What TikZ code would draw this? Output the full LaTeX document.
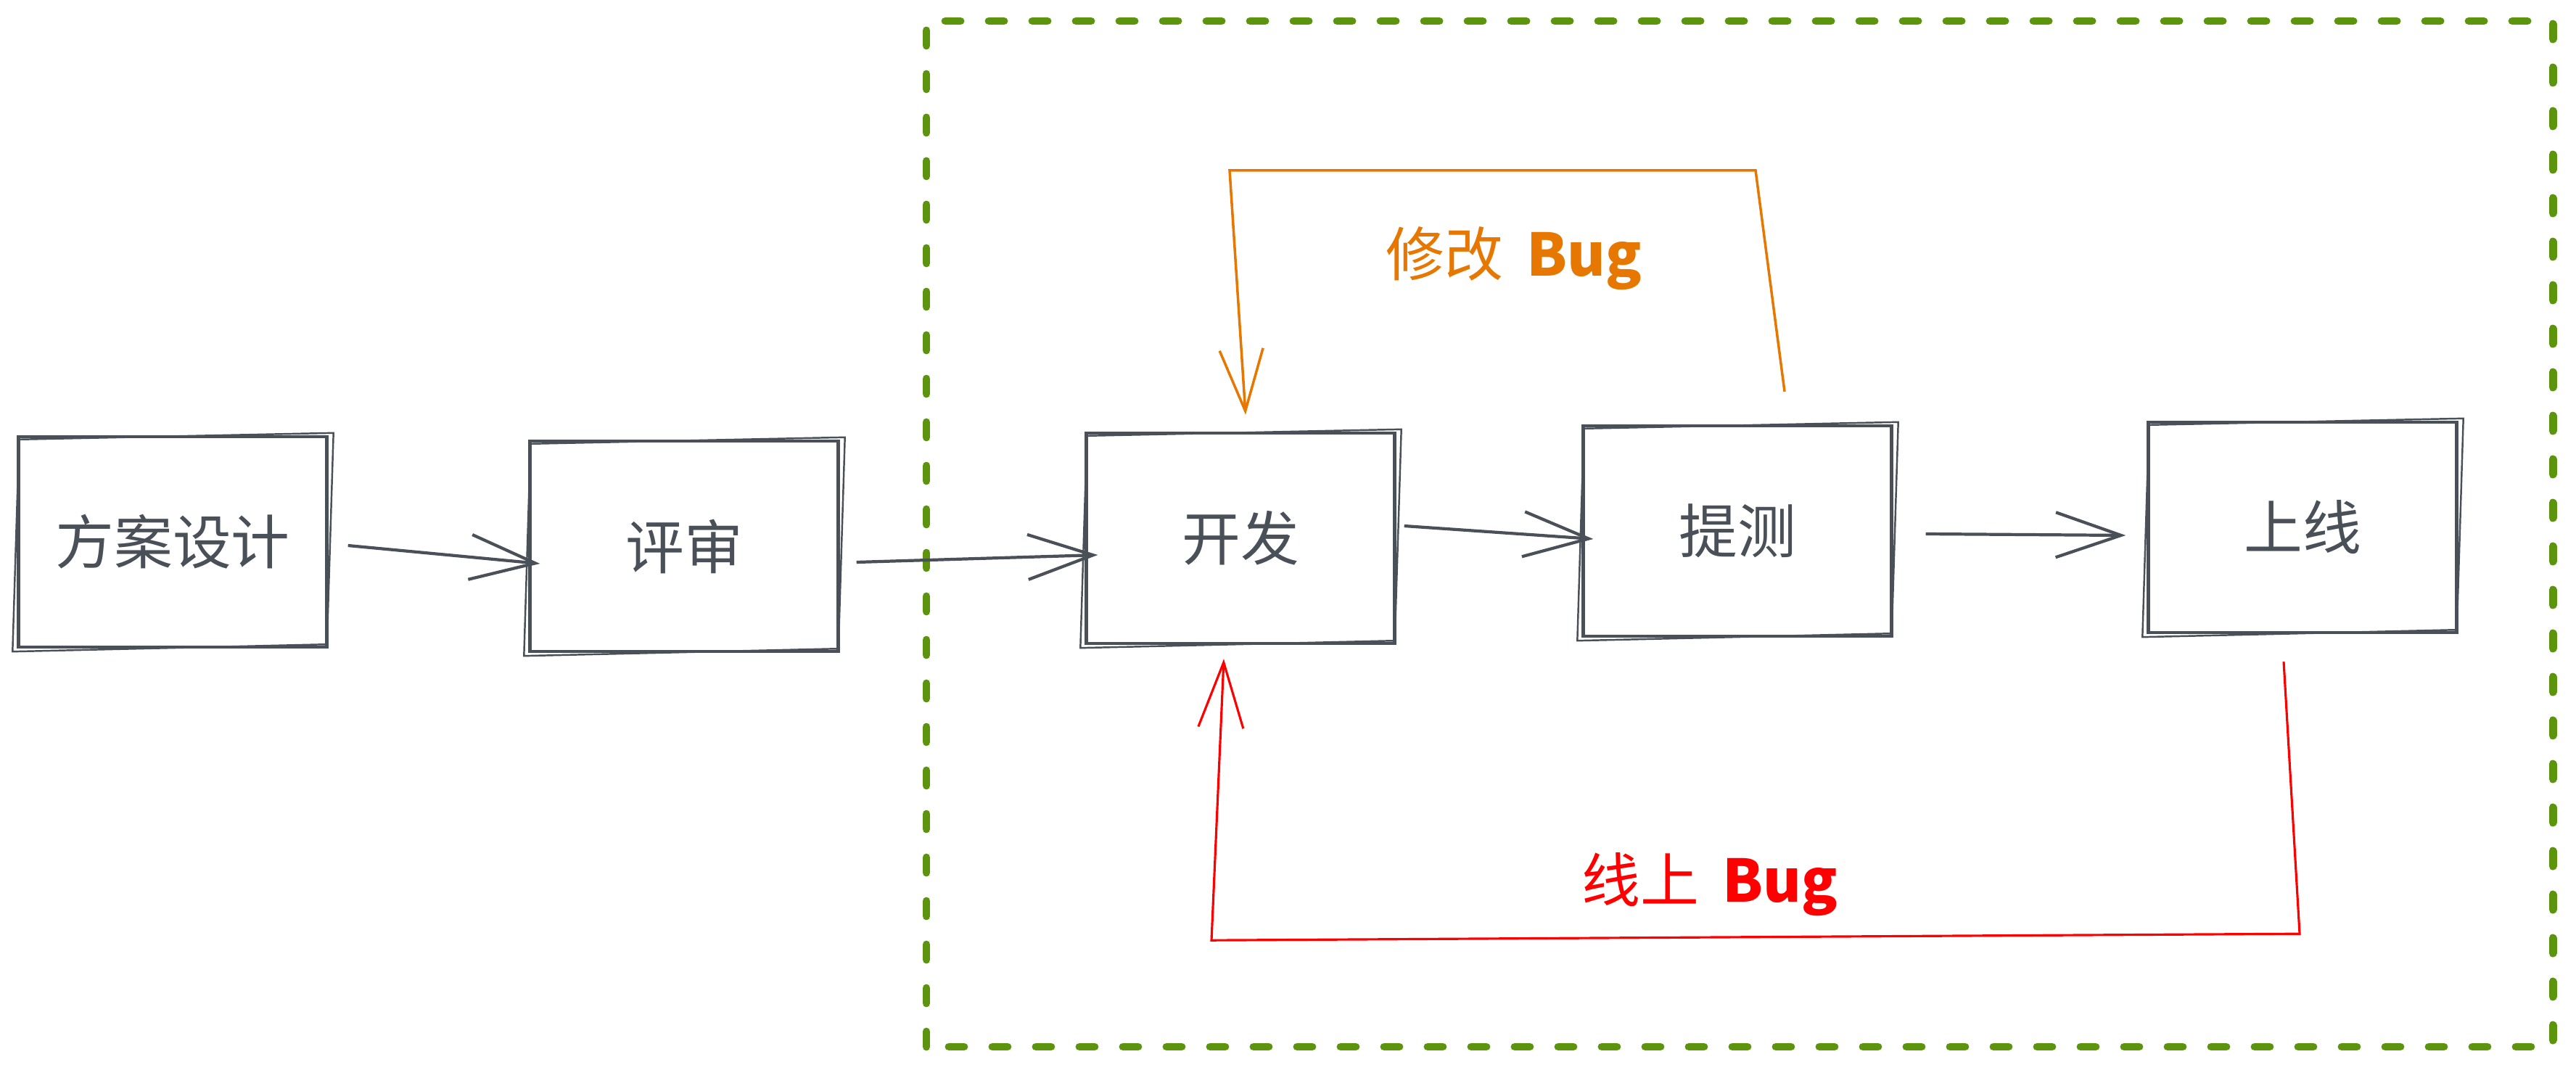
\documentclass[tikz,border=0pt]{standalone}
\usepackage{fontspec}
\setmainfont{Noto Sans CJK SC}
\usepackage{tikz}
\usetikzlibrary{calc}
\usetikzlibrary{arrows, arrows.meta}

\definecolor{inkgray}{HTML}{495057}
\definecolor{framegreen}{HTML}{5C940D}
\definecolor{fixorange}{HTML}{E67700}
\definecolor{bugred}{HTML}{FF0000}

\tikzset{
	stagebox/.style={draw=inkgray, line width=1.25pt, text=inkgray,
		minimum width=4.25cm, minimum height=2.9cm,
		font=\fontsize{23pt}{28pt}\selectfont},
	sketch/.style={draw=inkgray, line width=0.7pt},
	flow/.style={draw=inkgray, line width=1.2pt, -{Straight Barb[length=0.9cm,width=0.62cm]}},
	fixline/.style={draw=fixorange, line width=1pt, -{Straight Barb[length=0.85cm,width=0.6cm]}},
	bugline/.style={draw=bugred, line width=0.9pt, -{Straight Barb[length=0.9cm,width=0.62cm]}},
	looplabel/.style={font=\fontsize{23pt}{28pt}\selectfont}
}

\begin{document}
\begin{tikzpicture}
	\useasboundingbox (0,0) rectangle (35.51,14.74);
	
	%green dashed frame
	\draw[framegreen, line width=3.1pt, line cap=round, dash pattern=on 0.21cm off 0.39cm]
		(12.77,0.31) rectangle (35.19,14.45);
	
	%stages
	\node[stagebox] (fa) at (2.38,7.27) {方案设计};
	\node[stagebox] (ps) at (9.43,7.21) {评审};
	\node[stagebox] (kf) at (17.10,7.32) {开发};
	\node[stagebox] (tc) at (23.95,7.42) {提测};
	\node[stagebox] (sx) at (31.74,7.47) {上线};
	
	%second pencil stroke round each box
	\foreach \n in {fa,ps,kf,tc,sx}
		\draw[sketch] ([shift={(0.03,-0.06)}]\n.north west) -- ([shift={(0.07,0.03)}]\n.north east)
			-- ([shift={(-0.02,0.06)}]\n.south east) -- ([shift={(-0.06,-0.04)}]\n.south west) -- cycle;
	
	%main flow
	\draw[flow] ([shift={(0.27,-0.05)}]fa.east) -- ([shift={(0.16,-0.24)}]ps.west);
	\draw[flow] ([shift={(0.23,-0.22)}]ps.east) -- ([shift={(0.18,-0.23)}]kf.west);
	\draw[flow] ([shift={(0.11,0.17)}]kf.east) -- ([shift={(0.16,-0.11)}]tc.west);
	\draw[flow] ([shift={(0.45,-0.04)}]tc.east) -- ([shift={(-0.29,-0.11)}]sx.west);
	
	%fix loop, orange
	\draw[fixline] ([shift={(0.65,0.45)}]tc.north) -- ([shift={(0.25,3.5)}]tc.north)
		-- ([shift={(-0.15,3.6)}]kf.north) -- ([shift={(0.07,0.23)}]kf.north);
		\node[looplabel, text=fixorange] (fixlabel) at (20.87,11.18) {修改\, \textbf{Bug}};
	
	%online bug loop, red
	\draw[bugline] ([shift={(-0.26,-0.38)}]sx.south) -- ([shift={(-0.04,-4.13)}]sx.south)
		-- ([shift={(-0.40,-4.07)}]kf.south) -- ([shift={(-0.23,-0.19)}]kf.south);
		\node[looplabel, text=bugred] (buglabel) at (23.57,2.55) {线上\, \textbf{Bug}};
\end{tikzpicture}
\end{document}
